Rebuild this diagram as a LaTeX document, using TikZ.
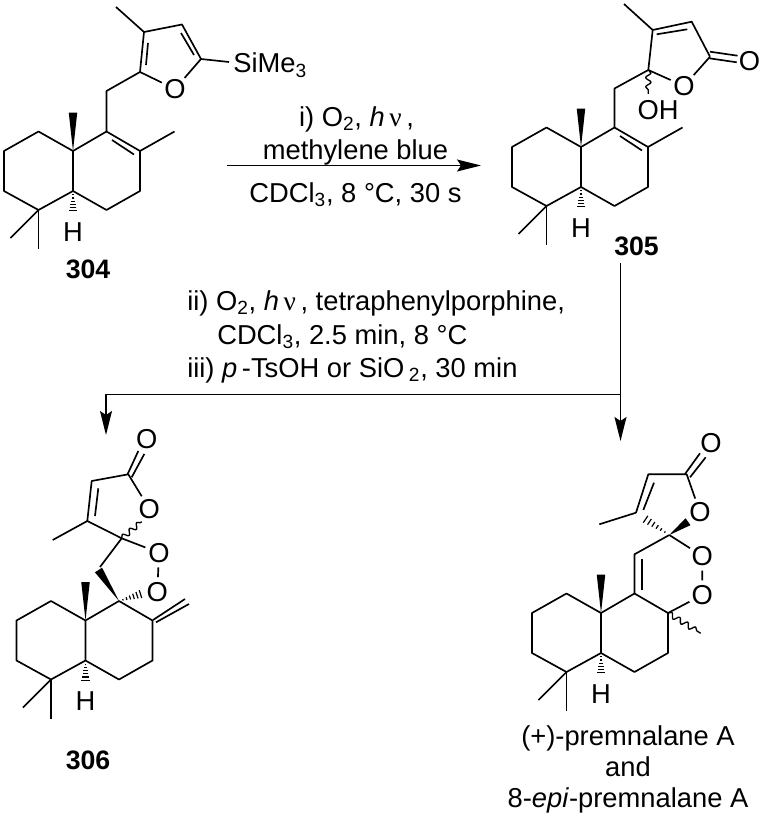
\documentclass[tikz,border=0pt]{standalone}
\usepackage{fontspec}
\setmainfont{Liberation Sans}
\newfontfamily\greekfont{Liberation Serif}
\usetikzlibrary{calc,arrows.meta,decorations.pathmorphing}

\newcommand{\hnu}{\textit{h}\,{\greekfont ν}\,}
\newcommand{\wedgebond}[3][3.2pt]{\fill (#2) -- ($(#3)!#1!90:(#2)$) -- ($(#3)!#1!-90:(#2)$) -- cycle;}
\newcommand{\hashbond}[3][3.6pt]{%
  \foreach \t in {0.16,0.3,...,1.01}
    \draw[line width=0.9pt] ($(#2)!\t!(#3)!\t*#1!90:(#3)$) -- ($(#2)!\t!(#3)!\t*#1!-90:(#3)$);}

\tikzset{
  bond/.style={line width=1.25pt},
  atom/.style={circle, inner sep=0pt, font=\fontsize{20.5}{22}\selectfont},
  lbl/.style={inner sep=0pt, font=\fontsize{20.5}{22}\selectfont},
  cmpd/.style={inner sep=0pt, font=\fontsize{20}{22}\selectfont\bfseries},
  cond/.style={inner sep=0pt, anchor=base, font=\fontsize{20.5}{22}\selectfont},
  wavy/.style={line width=1pt, decorate, decoration={snake, amplitude=2pt, segment length=7pt}},
  rxn/.style={line width=1.25pt, -{Stealth[length=18pt, width=9pt, inset=3pt]}},
  % carbon skeleton shared by the four compounds
  decalin/.pic={
    \node[atom] (-h) at (73,232) {H};
    \coordinate (-cme) at (73,151);
    \coordinate (-ch) at (73,191);
    \coordinate (-c1) at (106.5,131.5);
    \coordinate (-c2) at (140,151);
    \draw[bond] (73,151) -- (38.5,131.5) -- (4,151) -- (4,191) -- (38.5,210) -- (73,191) -- (73,151)
      -- (106.5,131.5) -- (140,151) -- (140,191) -- (106.5,210) -- (73,191);
    \draw[bond] (38.5,210) -- (10.5,238);
    \draw[bond] (38.5,210) -- (38.5,249);
    \coordinate (-me) at (73,112.5);
    \wedgebond{-cme}{-me}
    \coordinate (-hh) at (73,214);
    \hashbond{-ch}{-hh}
  }
}

\begin{document}
\begin{tikzpicture}[x=0.75pt, y=-0.75pt, line join=round]
  \useasboundingbox (0,0) rectangle (763,817);

  % 304
  \pic (a) at (0,0) {decalin};
  \node[atom] (o304) at (175,89) {O};
  \node[lbl, anchor=base west] (si304) at (233,73) {SiMe\textsubscript{3}};
  \node[cmpd] (lbl304) at (88,269) {304};
  \coordinate (a3) at (106.5,91);
  \coordinate (a4) at (140,72);
  \coordinate (a5) at (144,32);
  \coordinate (a6) at (182,24.5);
  \coordinate (a7) at (201,59);
  \coordinate (a8) at (229,62);
  \draw[bond] (a-c1) -- (a3) -- (a4) -- (a5) -- (a6) -- (a7);
  \draw[bond] (a4) -- (o304) -- (a7);
  \draw[bond] (a7) -- (a8);
  \draw[bond] (a5) -- (116,7);
  \draw[bond] (a-c2) -- (174.5,131.5);
  \draw[bond] (112,140) -- (134,154.5);
  \draw[bond] (148,43) -- (146,65);
  \draw[bond] (181,33) -- (194,55);

  % 305
  \pic (b) at (508,-4) {decalin};
  \node[atom] (o305) at (684,86) {O};
  \node[atom] (co305) at (749.5,61) {O};
  \node[lbl] (oh305) at (658,110) {OH};
  \node[cmpd] (lbl305) at (636.5,246.5) {305};
  \coordinate (b3) at (614.5,88.5);
  \coordinate (b4) at (648.3,70);
  \coordinate (b5) at (652.7,30);
  \coordinate (b6) at (691.7,21.7);
  \coordinate (b7) at (710,56.7);
  \draw[bond] (b-c1) -- (b3) -- (b4) -- (b5) -- (b6) -- (b7);
  \draw[bond] (b4) -- (o305) -- (b7);
  \draw[bond] (b5) -- (624,4);
  \draw[bond] (b-c2) -- (682.5,127.5);
  \draw[bond] (620,136) -- (642,150.5);
  \draw[bond] (656.7,34.3) -- (687.3,29.3);
  \draw[bond] (710,51.7) -- (737.5,55.7);
  \draw[bond] (709.3,58.3) -- (736.7,62.3);
  \draw[wavy] (b4) -- (648.3,94);

  % 306
  \pic (c) at (12.5,469.5) {decalin};
  \node[atom] (o306a) at (149.3,508.7) {O};
  \node[atom] (co306) at (146.7,439.3) {O};
  \node[atom] (o306b) at (159,552.7) {O};
  \node[atom] (o306c) at (157.3,591.7) {O};
  \node[cmpd] (lbl306) at (88,760) {306};
  \coordinate (c3) at (98.5,570);
  \coordinate (c4) at (121.7,538.3);
  \coordinate (c5) at (87.3,521);
  \coordinate (c6) at (91.7,481);
  \coordinate (c7) at (128.3,474.3);
  \coordinate (c8) at (144,593);
  \draw[bond] (c4) -- (100,567);
  \draw[bond] (c4) -- (c5) -- (c6) -- (c7) -- (o306a);
  \draw[bond] (c4) -- (o306b) -- (o306c);
  \draw[bond] (c5) -- (52.7,540);
  \draw[bond] (98.3,488.3) -- (95,516);
  \draw[bond] (127.7,474) -- (138.3,451);
  \draw[bond] (131.7,477.3) -- (144.3,454);
  \draw[bond] (153,620) -- (185,599);
  \draw[bond] (156,622.3) -- (189,604);
  \draw[wavy] (c4) -- (141.7,521.7);
  \wedgebond{c-c1}{c3}
  \hashbond{c-c1}{c8}

  % premnalane
  \pic (d) at (528,462) {decalin};
  \node[atom] (o307a) at (700,512.3) {O};
  \node[atom] (co307) at (711,443.3) {O};
  \node[atom] (o307b) at (702.3,556) {O};
  \node[atom] (o307c) at (702.3,595) {O};
  \node[cond] (lbl307a) at (628,745) {(+)-premnalane A};
  \node[cond] (lbl307b) at (628,776) {and};
  \node[cond] (lbl307c) at (628,807) {8-\textit{epi}-premnalane A};
  \coordinate (d3) at (634.5,554.3);
  \coordinate (d4) at (669.3,535);
  \coordinate (d5) at (636,512.7);
  \coordinate (d6) at (648.3,474.3);
  \coordinate (d7) at (686.7,474.3);
  \coordinate (d8) at (688,521.7);
  \coordinate (d9) at (641.7,516.7);
  \draw[bond] (d-c1) -- (d3) -- (d4);
  \draw[bond] (d4) -- (o307b) -- (o307c) -- (d-c2);
  \draw[bond] (d5) -- (d6) -- (d7) -- (o307a);
  \draw[bond] (d5) -- (599.3,524.3);
  \draw[bond] (641.7,559.3) -- (641.7,590);
  \draw[bond] (654,482.7) -- (643.3,510);
  \draw[bond] (685,474) -- (700,453.3);
  \draw[bond] (690,477.3) -- (705.7,457.3);
  \draw[wavy] (d-c2) -- (700.7,633.3);
  \wedgebond{d4}{d8}
  \hashbond{d4}{d9}

  % arrows
  \coordinate (top1) at (226.5,165.5);
  \coordinate (top2) at (481,165.5);
  \coordinate (vert1) at (620.5,263);
  \coordinate (elbow) at (620.5,394.5);
  \coordinate (tipr) at (620.5,441);
  \coordinate (left1) at (106,394.5);
  \coordinate (tipl) at (106,435);
  \draw[rxn] (top1) -- (top2);
  \draw[rxn] (vert1) -- (tipr);
  \draw[rxn] (elbow) -- (left1) -- (tipl);

  % conditions
  \node[cond] (t1) at (356.5,126) {i) O\textsubscript{2}, \hnu,};
  \node[cond] (t2) at (355.5,159.3) {methylene blue};
  \node[cond] (t3) at (355.5,202.7) {CDCl\textsubscript{3}, 8 °C, 30 s};
  \node[cond, anchor=base west] (t4) at (187,310.7) {ii) O\textsubscript{2}, \hnu, tetraphenylporphine,};
  \node[cond, anchor=base west] (t5) at (217,344) {CDCl\textsubscript{3}, 2.5 min, 8 °C};
  \node[cond, anchor=base west] (t6) at (187,377.3) {iii) \textit{p}\,-TsOH or SiO\,\textsubscript{2}, 30 min};
\end{tikzpicture}
\end{document}
